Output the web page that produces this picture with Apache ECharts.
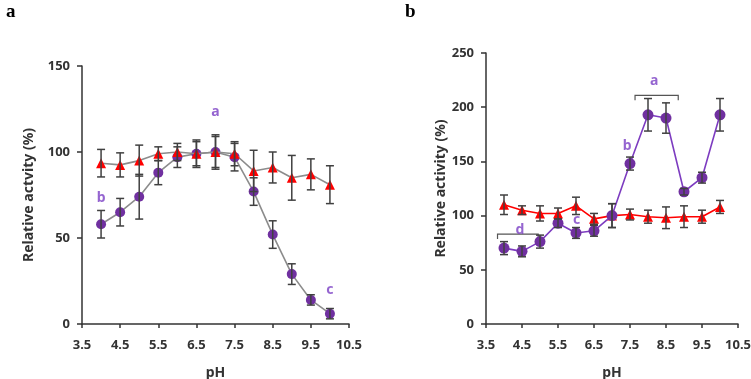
<!DOCTYPE html>
<html>
<head>
<meta charset="utf-8">
<script src="https://cdn.jsdelivr.net/npm/echarts@6/dist/echarts.min.js"></script>
<style>
  html, body { margin: 0; padding: 0; background: #fff; }
  #chart { width: 751px; height: 379px; }
</style>
</head>
<body>
<div id="chart"></div>
<script>
// pH values and tick labels
const phValues = [4, 4.5, 5, 5.5, 6, 6.5, 7, 7.5, 8, 8.5, 9, 9.5, 10]
const tickLabels = ['3.5', '4.5', '5.5', '6.5', '7.5', '8.5', '9.5', '10.5']

// panel a
const purpleA = [58, 65, 74, 88, 97, 99, 100, 97, 77, 52, 29, 14, 6]
const purpleErrA = [8, 8, 13, 7, 6, 7, 10, 8, 8, 8, 6, 3, 3]
const redA = [93.5, 92.5, 95, 99, 100, 99, 100, 99, 89, 91, 85, 87, 81]
const redErrA = [8, 7, 9, 4, 5, 8, 9, 7, 12, 9, 13, 9, 11]
const lettersA = [['a', 7, 123], ['b', 4, 73], ['c', 10, 20]]

// panel b
const purpleB = [70, 67, 76, 93, 84, 86, 100, 148, 193, 190, 122, 135, 193]
const purpleErrB = [6, 5, 6, 4, 5, 5, 11, 6, 15, 14, 3, 5, 15]
const redB = [110, 105, 102, 102, 109, 97, 100, 101, 99, 98, 99, 99, 108]
const redErrB = [9, 4, 7, 5, 8, 5, 11, 5, 6, 10, 10, 6, 6]
const lettersB = [['a', 8.17, 224], ['b', 7.42, 164], ['c', 6.02, 96], ['d', 4.44, 87]]
const bracketsB = [[7.64, 8.84, 211], [3.82, 4.95, 83]]

const chart = echarts.init(document.getElementById('chart'))

const font = 'Noto Sans'
const axisColor = '#333'
const purple = '#7030a0'

function errData(vals, errs) {
  return phValues.map((x, i) => [x, vals[i] - errs[i], vals[i] + errs[i]])
}

//误差线
function errRender(params, api) {
  const x = api.value(0)
  const top = api.coord([x, api.value(2)])
  const bot = api.coord([x, api.value(1)])
  const w = 4
  const style = { stroke: '#404040', lineWidth: 1.5 }
  return {
    type: 'group',
    children: [
      { type: 'line', shape: { x1: top[0], y1: top[1], x2: bot[0], y2: bot[1] }, style },
      { type: 'line', shape: { x1: top[0] - w, y1: top[1], x2: top[0] + w, y2: top[1] }, style },
      { type: 'line', shape: { x1: bot[0] - w, y1: bot[1], x2: bot[0] + w, y2: bot[1] }, style }
    ]
  }
}

//括号
function bracketRender(params, api) {
  const p1 = api.coord([api.value(0), api.value(2)])
  const p2 = api.coord([api.value(1), api.value(2)])
  return {
    type: 'polyline',
    shape: { points: [[p1[0], p1[1] + 5], p1, p2, [p2[0], p2[1] + 5]] },
    style: { stroke: '#555', lineWidth: 1.2, fill: null }
  }
}

function xAxes(gridIndex) {
  return [
    {
      gridIndex,
      type: 'category',
      data: tickLabels,
      boundaryGap: false,
      name: 'pH',
      nameLocation: 'middle',
      nameGap: 42,
      nameTextStyle: { fontFamily: font, fontWeight: 'bold', fontSize: 14, color: '#333' },
      axisLine: { lineStyle: { color: axisColor, width: 1.5 } },
      axisTick: { show: true, length: 4, inside: false, alignWithLabel: true, lineStyle: { color: axisColor, width: 1.5 } },
      axisLabel: { interval: 0, margin: 15, fontFamily: font, fontWeight: 'bold', fontSize: 13, color: '#333' },
      splitLine: { show: false }
    },
    {
      gridIndex,
      type: 'value',
      min: 3.5,
      max: 10.5,
      show: false
    }
  ]
}

function yAxis(gridIndex, max, name, gap) {
  return {
    gridIndex,
    type: 'value',
    min: 0,
    max,
    interval: 50,
    name,
    nameLocation: 'middle',
    nameGap: gap,
    nameTextStyle: { fontFamily: font, fontWeight: 'bold', fontSize: 14, color: '#333' },
    axisLine: { show: true, lineStyle: { color: axisColor, width: 1.5 } },
    axisTick: { show: true, length: 5, lineStyle: { color: axisColor, width: 1.5 } },
    axisLabel: { margin: 12, fontFamily: font, fontWeight: 'bold', fontSize: 13, color: '#333' },
    splitLine: { show: false }
  }
}

function lineSeries(xIdx, yIdx, vals, lineColor, markColor, symbol, size, z) {
  return {
    type: 'line',
    xAxisIndex: xIdx,
    yAxisIndex: yIdx,
    data: phValues.map((x, i) => [x, vals[i]]),
    symbol,
    symbolSize: size,
    showAllSymbol: true,
    lineStyle: { color: lineColor, width: 1.6 },
    itemStyle: { color: markColor },
    z
  }
}

function errSeries(xIdx, yIdx, vals, errs) {
  return {
    type: 'custom',
    xAxisIndex: xIdx,
    yAxisIndex: yIdx,
    data: errData(vals, errs),
    renderItem: errRender,
    z: 4
  }
}

function letterSeries(xIdx, yIdx, letters) {
  return {
    type: 'scatter',
    xAxisIndex: xIdx,
    yAxisIndex: yIdx,
    symbolSize: 0,
    data: letters.map(l => ({ value: [l[1], l[2]], name: l[0] })),
    label: {
      show: true,
      position: 'inside',
      formatter: p => p.name,
      fontFamily: font,
      fontWeight: 'bold',
      fontSize: 14,
      color: '#7b3fc4'
    },
    silent: true
  }
}

const option = {
  animation: false,
  backgroundColor: '#fff',
  title: [
    { text: 'a', left: 1, top: -2, textStyle: { fontFamily: 'Liberation Serif', fontWeight: 'bold', fontSize: 19, color: '#000' } },
    { text: 'b', left: 400, top: -2, textStyle: { fontFamily: 'Liberation Serif', fontWeight: 'bold', fontSize: 19, color: '#000' } }
  ],
  grid: [
    { left: 82, right: 402, top: 66, bottom: 55, outerBoundsMode: 'none' },
    { left: 486, right: 13, top: 53, bottom: 55, outerBoundsMode: 'none' }
  ],
  xAxis: [...xAxes(0), ...xAxes(1)],
  yAxis: [
    yAxis(0, 150, 'Relative actvity (%)', 46),
    yAxis(1, 250, 'Relative activity (%)', 38)
  ],
  series: [
    // panel a
    errSeries(1, 0, purpleA, purpleErrA),
    errSeries(1, 0, redA, redErrA),
    lineSeries(1, 0, purpleA, '#8c8c8c', purple, 'circle', 10, 2),
    lineSeries(1, 0, redA, '#8c8c8c', '#ff0000', 'triangle', 10, 3),
    letterSeries(1, 0, lettersA),
    // panel b
    errSeries(3, 1, purpleB, purpleErrB),
    errSeries(3, 1, redB, redErrB),
    lineSeries(3, 1, redB, '#ff0000', '#ff0000', 'triangle', 10, 2),
    lineSeries(3, 1, purpleB, '#7d3cc0', purple, 'circle', 11, 3),
    letterSeries(3, 1, lettersB),
    {
      type: 'custom',
      xAxisIndex: 3,
      yAxisIndex: 1,
      data: bracketsB,
      renderItem: bracketRender,
      silent: true
    }
  ]
}

chart.setOption(option)
window.onresize = chart.resize
</script>
</body>
</html>
